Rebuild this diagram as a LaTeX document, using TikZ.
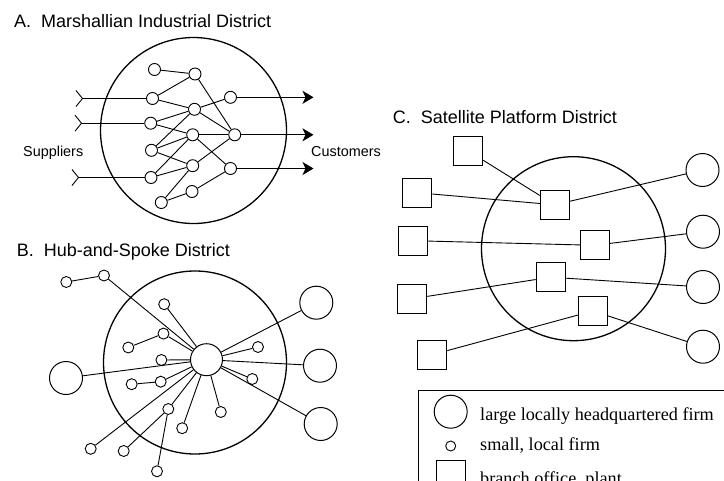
\documentclass[tikz,border=0pt]{standalone}
\usepackage{fontspec}
\setmainfont{Liberation Sans}
\newfontfamily\legendfont{Liberation Serif}
\usetikzlibrary{arrows.meta}
\begin{document}
\begin{tikzpicture}[x=1pt,y=-1pt,
  edge/.style={line width=0.9pt},
  district/.style={draw,circle,line width=1.3pt,inner sep=0pt,minimum size=#1},
  sm/.style={draw,circle,fill=white,line width=0.9pt,inner sep=0pt,minimum size=12pt},
  smb/.style={draw,circle,fill=white,line width=0.9pt,inner sep=0pt,minimum size=11pt},
  big/.style={draw,circle,fill=white,line width=1pt,inner sep=0pt,minimum size=33pt},
  sq/.style={draw,rectangle,fill=white,line width=1pt,inner sep=0pt,minimum size=29pt},
  title/.style={anchor=base west,inner sep=0pt,font=\fontsize{18}{20}\selectfont},
  lab/.style={anchor=base west,inner sep=0pt,font=\fontsize{14.4}{16}\selectfont},
  legtext/.style={anchor=base west,inner sep=0pt,font=\legendfont\fontsize{18.2}{20}\selectfont},
  arr/.style={edge,-{Stealth[length=11pt,width=13pt,inset=3pt]}}]
\useasboundingbox (0,0) rectangle (724,480);
\clip (0,0) rectangle (724,480);
\fill[white] (0,0) rectangle (724,480);

% ---------------- Panel A ----------------
\node[title] (tA) at (14,27.3) {A.\hspace{10pt}Marshallian Industrial District};
\node[district=186pt] (dA) at (193.5,130.5) {};
\foreach \n/\x/\y in {1/154.5/69.5, 2/195/74, 3/152.5/98.5, 4/194.5/109.3, 5/230.5/97.3,
  6/150.7/123.2, 7/192.7/134.8, 8/234.7/134.8, 9/151.5/150.3, 10/192.7/165.7,
  11/230.5/168.5, 12/151/177.5, 13/192/191.5, 14/161.3/202.5}
  \node[sm] (a\n) at (\x,\y) {};
\foreach \p/\q in {1/2, 2/3, 2/8, 3/4, 4/5, 4/6, 4/9, 4/8, 6/7, 9/7, 12/7, 9/10,
  12/10, 14/10, 14/13, 13/11, 10/8, 7/11, 7/8}
  \draw[edge] (a\p) -- (a\q);
% supplier tails
\coordinate (f1) at (82.5,98.5);
\coordinate (f2) at (81.5,123.2);
\coordinate (f3) at (78.5,177.5);
\foreach \f in {f1,f2,f3}
  \draw[edge] (\f) ++(-6.5,-8) -- (\f) -- ++(-6.5,8);
\draw[edge] (f1) -- (a3);
\draw[edge] (f2) -- (a6);
\draw[edge] (f3) -- (a12);
% customer arrows
\coordinate (e1) at (313.5,97.3);
\coordinate (e2) at (313.5,134.8);
\coordinate (e3) at (313.5,168.5);
\draw[arr] (a5) -- (e1);
\draw[arr] (a8) -- (e2);
\draw[arr] (a11) -- (e3);
\node[lab] (sup) at (23,156) {Suppliers};
\node[lab] (cus) at (311,156.5) {Customers};

% ---------------- Panel B ----------------
\node[title] (tB) at (16.7,256.7) {B.\hspace{10pt}Hub-and-Spoke District};
\node[district=183pt] (dB) at (195,362.5) {};
\node[big,minimum size=32pt] (hub) at (206.5,359.7) {};
\node[big] (L1) at (66,378) {};
\node[big] (R1) at (316.3,302.7) {};
\node[big] (R2) at (320,365.7) {};
\node[big] (R3) at (320.7,424) {};
\foreach \n/\x/\y in {1/66.3/282, 2/104/275.5, 3/164.2/304.2, 4/163.5/333.6, 5/128.3/347.5,
  6/161.4/360, 7/131.7/384.2, 8/160.7/381.7, 9/168.3/409, 10/123.7/451, 11/157/471.3,
  12/90.7/448.8, 13/182.2/428.2, 14/220.8/412, 15/252.3/379, 16/258/347}
  \node[smb] (b\n) at (\x,\y) {};
\foreach \p/\q in {1/2, 5/4, 7/8, 10/9, 11/9}
  \draw[edge] (b\p) -- (b\q);
\foreach \p in {2,3,4,6,8,9,12,13,14,15,16}
  \draw[edge] (b\p) -- (hub);
\foreach \p in {L1,R1,R2,R3}
  \draw[edge] (\p) -- (hub);

% ---------------- Panel C ----------------
\node[title] (tC) at (392.7,123.3) {C.\hspace{10pt}Satellite Platform District};
\node[district=184pt] (dC) at (573.5,248.7) {};
\node[sq] (s1) at (468.3,151) {};
\node[sq] (s2) at (417.3,192.7) {};
\node[sq] (s3) at (413.3,240.7) {};
\node[sq] (s4) at (412.3,298.7) {};
\node[sq] (s5) at (432.3,354.7) {};
\node[sq] (i1) at (554.8,204.8) {};
\node[sq] (i2) at (595,245.3) {};
\node[sq] (i3) at (550.7,277.2) {};
\node[sq] (i4) at (592.8,311) {};
\node[big] (c1) at (702.5,170) {};
\node[big] (c2) at (703,231.7) {};
\node[big] (c3) at (703,287) {};
\node[big] (c4) at (703,346.7) {};
\draw[edge] (s1) -- (i1);
\draw[edge] (s2) -- (i1);
\draw[edge] (i1) -- (c1);
\draw[edge] (s3) -- (i2);
\draw[edge] (i2) -- (c2);
\draw[edge] (s4) -- (i3);
\draw[edge] (i3) -- (c3);
\draw[edge] (s5) -- (i4);
\draw[edge] (i4) -- (c4);

% ---------------- Legend ----------------
\draw[line width=1pt] (418,390) rectangle (740,500);
\node[big] (lg1) at (450.7,411.7) {};
\node[draw,circle,line width=0.9pt,inner sep=0pt,minimum size=10pt] (lg2) at (450.7,446) {};
\node[sq] (lg3) at (451.2,475.2) {};
\node[legtext] (lt1) at (480,420) {large locally headquartered firm};
\node[legtext] (lt2) at (480,450.7) {small, local firm};
\node[legtext] (lt3) at (480,484) {branch office, plant};
\end{tikzpicture}
\end{document}
